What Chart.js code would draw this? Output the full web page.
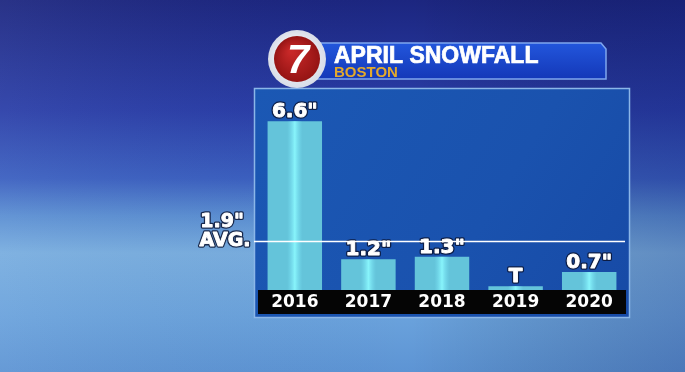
<!DOCTYPE html>
<html>
<head>
<meta charset="utf-8">
<script src="https://cdn.jsdelivr.net/npm/chart.js@4.4.1/dist/chart.umd.min.js"></script>
<style>
html,body{margin:0;padding:0;background:#2a4aa8;}
#wrap{width:685px;height:372px;position:relative;}
</style>
</head>
<body>
<div id="wrap"><canvas id="c" width="685" height="372"></canvas></div>
<script>
// ---- data ----
const years = ['2016', '2017', '2018', '2019', '2020'];
const snowfall = [6.6, 1.2, 1.3, 0.15, 0.7];          // 2019 = trace (drawn as small bar)
const valueLabels = ['6.6"', '1.2"', '1.3"', 'T', '0.7"'];
const averageValue = 1.9;
const averageLabels = ['1.9"', 'AVG.'];
const titleText = 'APRIL SNOWFALL';
const subtitleText = 'BOSTON';
const logoText = '7';

const FONT = '"Liberation Sans", Arial, sans-serif';
const WIDE = '"DejaVu Sans", sans-serif';

function heavyText(ctx, txt, x, y) {
  ctx.strokeStyle = 'rgba(10,20,50,0.85)'; ctx.lineWidth = 3.5;
  ctx.strokeText(txt, x, y);
  ctx.fillStyle = '#ffffff';
  ctx.fillText(txt, x, y);
  ctx.strokeStyle = '#ffffff'; ctx.lineWidth = 0.9;
  ctx.strokeText(txt, x, y);
}

const decor = {
  id: 'decor',
  beforeDraw(chart) {
    const ctx = chart.ctx, W = chart.width, H = chart.height;
    ctx.save();
    // background
    let g = ctx.createLinearGradient(0, 0, 0, H);
    g.addColorStop(0, '#1c2680');
    g.addColorStop(0.3, '#2a3ea8');
    g.addColorStop(0.48, '#3a5fc0');
    g.addColorStop(0.58, '#5a8ed2');
    g.addColorStop(0.68, '#78addf');
    g.addColorStop(0.85, '#6aa2dc');
    g.addColorStop(1, '#5d94d4');
    ctx.fillStyle = g; ctx.fillRect(0, 0, W, H);
    let h = ctx.createLinearGradient(0, 0, W, 0);
    h.addColorStop(0, 'rgba(255,255,255,0.06)');
    h.addColorStop(0.6, 'rgba(0,0,0,0)');
    h.addColorStop(1, 'rgba(10,20,90,0.22)');
    ctx.fillStyle = h; ctx.fillRect(0, 0, W, H);

    // panel
    const px0 = 254, px1 = 630, py0 = 88, py1 = 318;
    let pg = ctx.createLinearGradient(px0, py0, px1, py1);
    pg.addColorStop(0, '#1b58b4');
    pg.addColorStop(0.6, '#1a52ae');
    pg.addColorStop(1, '#174aa6');
    ctx.fillStyle = pg; ctx.fillRect(px0, py0, px1 - px0, py1 - py0);
    ctx.strokeStyle = '#8bb6e8'; ctx.lineWidth = 1.5;
    ctx.strokeRect(px0 + 0.5, py0 + 0.5, px1 - px0 - 1, py1 - py0 - 1);

    // black axis band
    const a = chart.chartArea;
    ctx.fillStyle = '#050505';
    ctx.fillRect(a.left, a.bottom, a.right - a.left, 24);

    // banner
    ctx.beginPath();
    ctx.moveTo(312, 43); ctx.lineTo(601, 43); ctx.lineTo(606, 49);
    ctx.lineTo(606, 79); ctx.lineTo(312, 79); ctx.closePath();
    let bg = ctx.createLinearGradient(0, 43, 0, 79);
    bg.addColorStop(0, '#2256dc'); bg.addColorStop(1, '#1438b8');
    ctx.fillStyle = bg; ctx.fill();
    ctx.strokeStyle = '#7fa6ee'; ctx.lineWidth = 1.5; ctx.stroke();

    // logo
    const cx = 297, cy = 59;
    let lg = ctx.createRadialGradient(cx - 6, cy - 8, 4, cx, cy, 29);
    lg.addColorStop(0, '#ffffff'); lg.addColorStop(1, '#d8dde8');
    ctx.beginPath(); ctx.arc(cx, cy, 29, 0, Math.PI * 2); ctx.fillStyle = lg; ctx.fill();
    ctx.beginPath(); ctx.arc(cx, cy, 23, 0, Math.PI * 2);
    let rg = ctx.createRadialGradient(cx - 6, cy - 8, 2, cx, cy, 23);
    rg.addColorStop(0, '#c82828'); rg.addColorStop(1, '#951414');
    ctx.fillStyle = rg; ctx.fill();
    ctx.fillStyle = '#ffffff';
    ctx.font = 'italic bold 40px ' + FONT;
    ctx.textAlign = 'center'; ctx.textBaseline = 'middle';
    ctx.fillText(logoText, cx + 1, cy + 3);

    // title texts
    ctx.textAlign = 'left'; ctx.textBaseline = 'alphabetic';
    ctx.font = 'bold 23px ' + FONT;
    ctx.fillStyle = '#ffffff';
    ctx.fillText(titleText, 334, 63);
    ctx.strokeStyle = '#ffffff'; ctx.lineWidth = 0.7;
    ctx.strokeText(titleText, 334, 63);
    ctx.font = 'bold 15px ' + FONT;
    ctx.fillStyle = '#e3a92c';
    ctx.fillText(subtitleText, 334, 77);
    ctx.restore();
  },
  afterDatasetsDraw(chart) {
    const ctx = chart.ctx;
    const meta = chart.getDatasetMeta(0);
    ctx.save();
    // bar highlight
    meta.data.forEach((bar) => {
      const x0 = bar.x - bar.width / 2;
      const g = ctx.createLinearGradient(x0, 0, x0 + bar.width, 0);
      g.addColorStop(0, 'rgba(120,225,245,0)');
      g.addColorStop(0.36, 'rgba(120,225,245,0)');
      g.addColorStop(0.5, 'rgba(140,250,255,0.9)');
      g.addColorStop(0.64, 'rgba(120,225,245,0)');
      g.addColorStop(1, 'rgba(120,225,245,0)');
      ctx.fillStyle = g;
      ctx.fillRect(x0, bar.y, bar.width, bar.base - bar.y);
    });
    // value labels
    ctx.font = 'bold 20px ' + WIDE;
    ctx.textAlign = 'center'; ctx.textBaseline = 'alphabetic';
    ctx.lineJoin = 'round';
    meta.data.forEach((bar, i) => {
      heavyText(ctx, valueLabels[i], bar.x, bar.y - 4);
    });
    // average line
    const ys = chart.scales.y;
    const yy = Math.round(ys.getPixelForValue(averageValue)) + 0.5;
    ctx.strokeStyle = '#ffffff'; ctx.lineWidth = 1.6;
    ctx.beginPath(); ctx.moveTo(chart.chartArea.left - 4, yy); ctx.lineTo(chart.chartArea.right - 1, yy); ctx.stroke();
    ctx.font = 'bold 19px ' + WIDE;
    heavyText(ctx, averageLabels[0], 222, yy - 15);
    heavyText(ctx, averageLabels[1], 225, yy + 4);
    ctx.restore();
  }
};

new Chart(document.getElementById('c'), {
  type: 'bar',
  data: {
    labels: years,
    datasets: [{
      data: snowfall,
      backgroundColor: '#64c4da',
      borderWidth: 0,
      barPercentage: 0.74,
      categoryPercentage: 1.0
    }]
  },
  options: {
    responsive: false,
    animation: false,
    events: [],
    layout: { padding: { left: 258, right: 59, top: 88, bottom: 0 } },
    plugins: { legend: { display: false }, tooltip: { enabled: false } },
    scales: {
      x: {
        grid: { display: false, drawTicks: false },
        border: { display: false },
        ticks: { color: '#ffffff', font: { family: WIDE, size: 17, weight: 'bold' }, padding: 2, maxRotation: 0 },
        afterFit(scale) { scale.height = 82; }
      },
      y: {
        display: false,
        min: 0,
        max: 7.9
      }
    }
  },
  plugins: [decor]
});
</script>
</body>
</html>
